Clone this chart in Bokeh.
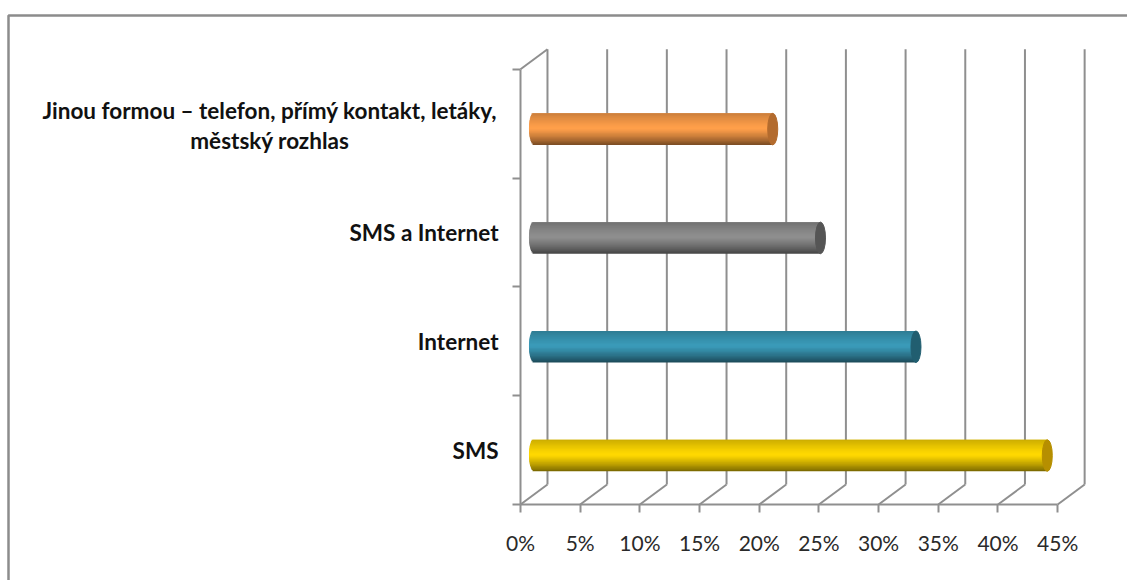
from bokeh.plotting import figure
from bokeh.models import FixedTicker, BoxAnnotation, ColumnDataSource, Label
from bokeh.embed import file_html
from bokeh.resources import INLINE
import math

categories = ["SMS", "Internet", "SMS a Internet",
              "Jinou formou \u2013 telefon, přímý kontakt, letáky,\nměstský rozhlas"]
values = [43, 32, 24, 20]
x_ticks = [0, 5, 10, 15, 20, 25, 30, 35, 40, 45]
x_labels = ["0%", "5%", "10%", "15%", "20%", "25%", "30%", "35%", "40%", "45%"]
bar_colors = ["#FFD800", "#3A9AB8", "#8E8E8E", "#FF9F4A"]
cap_colors = ["#B68F00", "#215E70", "#555555", "#B36B2E"]

GRID = "#8F8F8F"
DX, DY = 2.26, 0.184      # wall depth offset
BAR_START, BAR_H, BAR_SHIFT = 1.13, 0.29, -0.05
CAP_RX = 0.42
LABEL_FONT, LABEL_SIZE = "Lato", "22.5px"
W, H = 1127, 580
X0_PX, Y0_PX, X_SCALE, Y_SCALE = 520, 504, 11.937, 108.81

p = figure(width=W, height=H,
           x_range=(-X0_PX / X_SCALE, (W - X0_PX) / X_SCALE),
           y_range=(-(H - Y0_PX) / Y_SCALE, Y0_PX / Y_SCALE),
           output_backend="svg", toolbar_location=None,
           min_border_left=0, min_border_right=0, min_border_top=0, min_border_bottom=0)
p.grid.visible = False
p.outline_line_color = None
p.background_fill_color = "white"

# outer frame of the picture
p.add_layout(BoxAnnotation(left=8, right=W + 100, top=H - 15, bottom=-100,
                           left_units="screen", right_units="screen",
                           top_units="screen", bottom_units="screen",
                           fill_color=None, line_color="#8C8C8C", line_alpha=1, line_width=2.5))

# x axis
ax = p.xaxis[0]
ax.fixed_location = 0
ax.ticker = FixedTicker(ticks=x_ticks)
ax.major_label_overrides = {t: l for t, l in zip(x_ticks, x_labels)}
ax.bounds = (0, 45)
ax.axis_line_color = GRID
ax.axis_line_width = 2
ax.major_tick_line_color = GRID
ax.major_tick_line_width = 2
ax.major_tick_out = 8
ax.major_tick_in = 0
ax.minor_tick_line_color = None
ax.major_label_text_font = "Lato"
ax.major_label_text_font_size = "21px"
ax.major_label_text_color = "#2A2A2A"
ax.major_label_standoff = 17

# y axis: labels mid-band, ticks on band edges
ay = p.yaxis[0]
ay.fixed_location = 0
centers = [i + 0.5 for i in range(len(categories))]
ay.ticker = FixedTicker(ticks=centers, minor_ticks=list(range(len(categories) + 1)))
ay.major_label_overrides = {c: (l if "\n" not in l else " ") for c, l in zip(centers, categories)}
ay.bounds = (0, 4)
ay.axis_line_color = GRID
ay.axis_line_width = 2
ay.major_tick_line_color = None
ay.major_tick_out = 0
ay.major_tick_in = 0
ay.minor_tick_line_color = GRID
ay.minor_tick_line_width = 2
ay.minor_tick_out = 8
ay.minor_tick_in = 0
ay.major_label_text_font = LABEL_FONT
ay.major_label_text_font_size = LABEL_SIZE
ay.major_label_text_font_style = "bold"
ay.major_label_text_color = "#111111"
ay.major_label_standoff = 14

# the two-line category is centred, which an axis label cannot do
p.add_layout(Label(x=-21, y=centers[3], y_offset=-2, text=categories[3], text_align="center",
                   text_baseline="middle", text_font=LABEL_FONT, text_font_size=LABEL_SIZE,
                   text_font_style="bold", text_color="#111111", text_line_height=1.1))

# back wall and floor
xs = [[t + DX, t + DX] for t in x_ticks] + [[t, t + DX] for t in x_ticks]
ys = [[DY, 4 + DY] for t in x_ticks] + [[0, DY] for t in x_ticks]
xs.append([0, DX]); ys.append([4, 4 + DY])
p.multi_line(xs, ys, line_color=GRID, line_width=2)


def shade(hex_color, f):
    r, g, b = [int(hex_color[i:i + 2], 16) for i in (1, 3, 5)]
    if f <= 1:
        c = [v * f for v in (r, g, b)]
    else:
        c = [v + (255 - v) * (f - 1) for v in (r, g, b)]
    return "#%02x%02x%02x" % tuple(int(round(v)) for v in c)


N = 24
for i, (v, base, cap) in enumerate(zip(values, bar_colors, cap_colors)):
    yc = i + 0.5 + BAR_SHIFT
    rows = {"bottom": [], "top": [], "left": [], "right": [], "color": []}
    for k in range(N):
        t = (k + 0.5) / N              # 0 = bottom, 1 = top
        u = 2 * t - 1
        if t < 0.55:
            f = 0.45 + 0.55 * min(1, t / 0.5) ** 0.8
        else:
            f = 1 - 0.2 * ((t - 0.55) / 0.45) ** 1.2
        rows["bottom"].append(yc - BAR_H / 2 + k * BAR_H / N)
        rows["top"].append(yc - BAR_H / 2 + min(N, k + 2) * BAR_H / N)
        rows["left"].append(BAR_START - CAP_RX * math.sqrt(max(0, 1 - u * u)))
        rows["right"].append(BAR_START + v)
        rows["color"].append(shade(base, f))
    p.quad(left="left", right="right", bottom="bottom", top="top", fill_color="color",
           line_color=None, source=ColumnDataSource(rows))
    p.ellipse(x=[BAR_START + v], y=[yc], width=2 * CAP_RX, height=BAR_H,
              fill_color=cap, line_color=cap, line_width=1)

open("out.html", "w").write(file_html(p, INLINE))
